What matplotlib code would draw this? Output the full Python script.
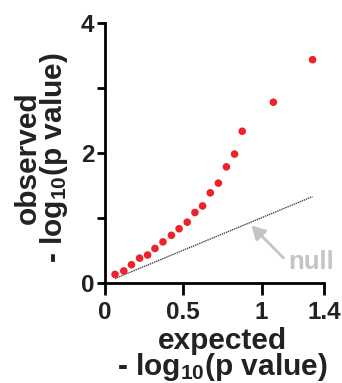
import matplotlib
matplotlib.use("Agg")
import matplotlib.pyplot as plt

# QQ plot values
expected = [0.064, 0.120, 0.169, 0.221, 0.272, 0.319, 0.370, 0.424, 0.473, 0.525,
            0.574, 0.623, 0.672, 0.724, 0.775, 0.827, 0.876, 1.075, 1.325]
observed = [0.128, 0.181, 0.277, 0.378, 0.426, 0.527, 0.628, 0.729, 0.830, 0.931,
            1.080, 1.181, 1.383, 1.532, 1.782, 1.979, 2.330, 2.777, 3.431]
null_x = [expected[0], expected[-1]]

xticks = [0, 0.5, 1, 1.4]
xticklabels = ["0", "0.5", "1", "1.4"]
yticks = [0, 1, 2, 3, 4]
yticklabels = ["0", "", "2", "", "4"]

plt.rcParams["font.family"] = ["Liberation Sans", "DejaVu Sans"]
plt.rcParams["font.weight"] = "bold"
plt.rcParams["mathtext.fontset"] = "custom"
plt.rcParams["mathtext.rm"] = "Liberation Sans:bold"
plt.rcParams["mathtext.default"] = "rm"

TXT = "#222222"
RED = "#ee2228"
GREY = "#c4c4c4"

fig = plt.figure(figsize=(3.42, 3.83), dpi=100)
ax = fig.add_axes([105 / 342, (383 - 282.7) / 383, 219.3 / 342, 260 / 383])

ax.plot(null_x, null_x, ls=(0, (1, 0.6)), lw=1.0, color="#444444", zorder=2)
ax.scatter(expected, observed, s=30, color=RED, edgecolors="none", zorder=3)

# "null" label + arrow pointing at the diagonal
ax.text(1.17, 0.32, "null", ha="left", va="center", fontsize=18.5,
        fontweight="bold", color=GREY)
ax.annotate("", xy=(0.935, 0.88), xytext=(1.14, 0.38),
            arrowprops=dict(arrowstyle="-|>,head_length=0.8,head_width=0.45",
                            color=GREY, lw=2, shrinkA=0, shrinkB=0))

ax.set_xlim(0, 1.4)
ax.set_ylim(0, 4)
ax.set_xticks(xticks)
ax.set_xticklabels(xticklabels)
ax.set_yticks(yticks)
ax.set_yticklabels(yticklabels)
for s in ("top", "right"):
    ax.spines[s].set_visible(False)
for s in ("left", "bottom"):
    ax.spines[s].set_linewidth(2.0)
    ax.spines[s].set_color("black")
ax.tick_params(axis="x", length=8.5, width=2.0, labelsize=17.5, pad=5, labelcolor=TXT)
ax.tick_params(axis="y", length=5.5, width=2.0, labelsize=17.5, pad=2, labelcolor=TXT)

ax.set_xlabel("expected\n- log$_{10}$(p value)", fontsize=21.5, fontweight="bold",
              color=TXT, linespacing=0.82)
ax.xaxis.set_label_coords(0.535, -0.17)
ax.set_ylabel("observed\n- log$_{10}$(p value)", fontsize=21.5, fontweight="bold",
              color=TXT, linespacing=0.82)
ax.yaxis.set_label_coords(-0.16, 0.48)

fig.savefig("out.png", dpi=100)
